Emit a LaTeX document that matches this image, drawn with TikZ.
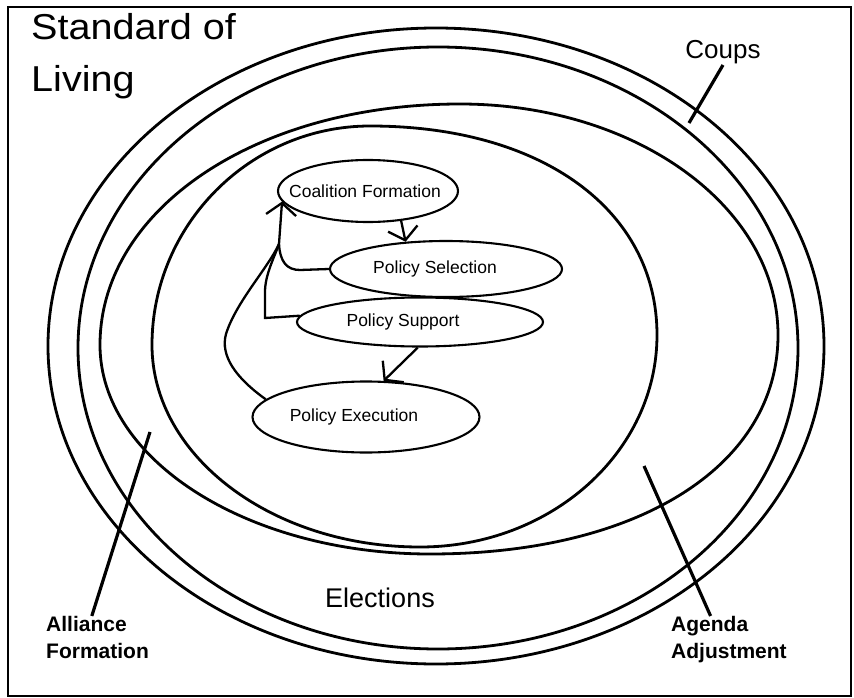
\documentclass[tikz,border=0pt]{standalone}
\usepackage{fontspec}
\setmainfont{Liberation Sans}
\newfontfamily\widesf[FakeStretch=1.1]{Liberation Sans}
\usetikzlibrary{arrows.meta,shapes.geometric}
\begin{document}
\begin{tikzpicture}[x=1pt,y=-1pt,
  ring/.style={line width=2.8pt},
  proc/.style={draw, ellipse, line width=2.1pt, inner sep=0pt, font=\fontsize{17.5}{20}\selectfont},
  conn/.style={line width=2.3pt},
  arr/.style={line width=2.3pt, -{Straight Barb[length=12pt,width=30pt]}},
  pointer/.style={line width=3.2pt},
  bigl/.style={font=\widesf\fontsize{36}{52}\selectfont, align=left, inner sep=0pt, anchor=north west},
  tag/.style={font=\bfseries\fontsize{21}{27}\selectfont, align=left, inner sep=0pt, anchor=north west},
  ]
\useasboundingbox (0,0) rectangle (854,698);
\fill[white] (0,0) rectangle (854,698);
% frame
\draw[line width=2.8pt] (8,7) rectangle (851,696);
% rings
\draw[ring] (436,346) ellipse [x radius=388, y radius=318];
\draw[ring] (438,348) ellipse [x radius=360, y radius=301];
\draw[ring] (100,345) .. controls (100,210) and (255,104) .. (460,104)
  .. controls (636,104) and (778,207) .. (778,335)
  .. controls (778,465) and (640,554) .. (430,554)
  .. controls (248,554) and (100,460) .. cycle;
\draw[ring] (152,345) .. controls (152,225) and (250,126) .. (370,126)
  .. controls (542,126) and (657,210) .. (657,335)
  .. controls (657,452) and (551,547) .. (420,547)
  .. controls (272,547) and (152,456) .. cycle;
% labels
\node[bigl] (sol) at (31,13) {Standard of\\Living};
\node[font=\fontsize{26}{30}\selectfont, inner sep=1pt] (coups) at (723,52) {Coups};
\node[font=\fontsize{27}{30}\selectfont, inner sep=0pt] (elec) at (380,598) {Elections};
\node[tag] (al) at (46,616) {Alliance\\Formation};
\node[tag] (ag) at (671,616) {Agenda\\Adjustment};
% process ellipses
\node[proc, minimum width=180pt, minimum height=62pt] (cf) at (368,191) {\makebox[0pt]{Coalition Formation\hspace{6pt}}};
\node[proc, minimum width=232pt, minimum height=56pt] (ps) at (446,269) {\makebox[0pt]{Policy Selection\hspace{22pt}}};
\node[proc, minimum width=246pt, minimum height=49pt] (psu) at (420,322) {\makebox[0pt]{Policy Support\hspace{34pt}}};
\node[proc, minimum width=227pt, minimum height=71pt] (pe) at (366,417) {\makebox[0pt]{Policy Execution\hspace{24pt}}};
% connectors
\coordinate (j) at (279,244);
\draw[conn] (pe.170) .. controls (236,378) and (220,356) .. (226,334) .. controls (236,302) and (268,268) .. (j);
\draw[conn] (ps.west) -- (300,270) .. controls (287,270) and (280,262) .. (j);
\draw[conn] (psu.177) -- (265,318) -- (265,292) .. controls (265,275) and (274,258) .. (j);
\draw[arr] (j) -- (cf.187);
\draw[arr] (cf.318) -- (ps.146);
\draw[arr] (psu.265) -- (pe.64);
% pointers
\coordinate (coupsend) at (689,123);
\coordinate (alend) at (150,432);
\coordinate (agend) at (644,466);
\draw[pointer] (coups.south) -- (coupsend);
\draw[pointer] (al.105) -- (alend);
\draw[pointer] (ag.128) -- (agend);
\end{tikzpicture}
\end{document}
